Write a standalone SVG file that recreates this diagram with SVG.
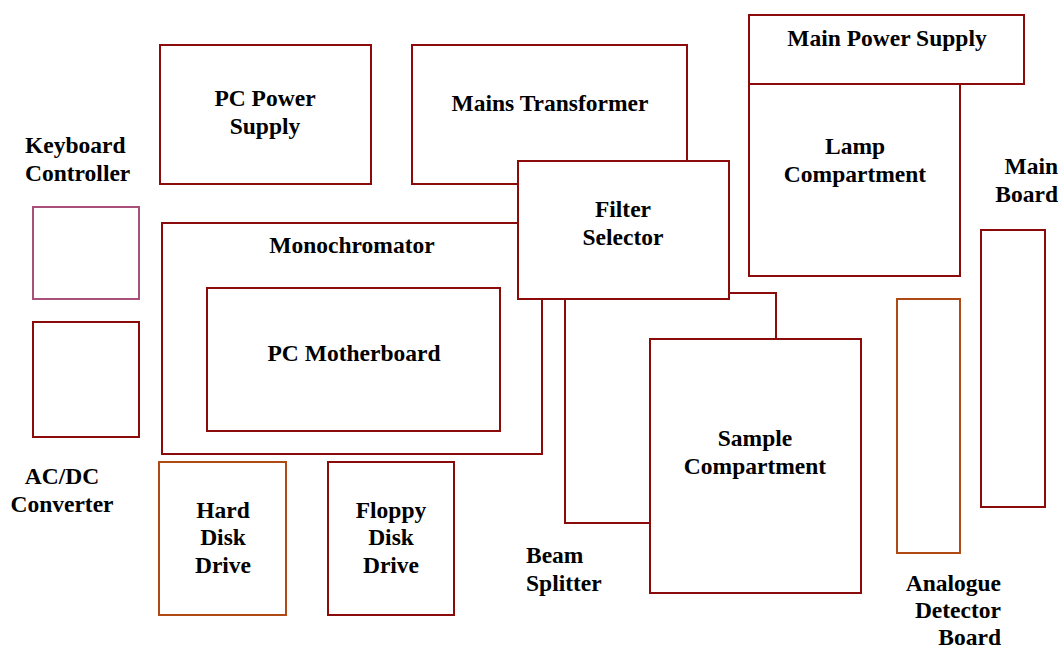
<svg xmlns="http://www.w3.org/2000/svg" width="1061" height="648" viewBox="0 0 1061 648">
<style>
rect{fill:#fff;stroke:#8B0A0A;stroke-width:2}
.pink{stroke:#A8507A}
.orange{stroke:#B04A14}
.conn{fill:none;stroke:#8B0A0A;stroke-width:2}
text{font-family:'Liberation Serif','Times New Roman',Times,serif;font-weight:700;font-size:23.5px;fill:#000}
.c{text-anchor:middle}
.e{text-anchor:end}
</style>
<rect width="1061" height="648" style="fill:#fff;stroke:none"/>
<g id="pc-power-supply"><rect x="160" y="45" width="211" height="139"/><text class="c" x="265" y="106">PC Power</text><text class="c" x="265" y="134">Supply</text></g>
<g id="mains-transformer"><rect x="412" y="45" width="275" height="139"/><text class="c" x="550" y="111">Mains Transformer</text></g>
<g id="monochromator"><rect x="162" y="223" width="380" height="231"/><text class="c" x="352" y="253">Monochromator</text></g>
<g id="pc-motherboard"><rect x="207" y="288" width="293" height="143"/><text class="c" x="354" y="361">PC Motherboard</text></g>
<g id="connectors">
<polyline class="conn" points="565,299 565,523 650,523"/>
<polyline class="conn" points="729,293 776,293 776,339"/>
</g>
<g id="filter-selector"><rect x="518" y="161" width="211" height="138"/><text class="c" x="623" y="217">Filter</text><text class="c" x="623" y="245">Selector</text></g>
<g id="main-power-supply"><rect x="749" y="15" width="275" height="69"/><text class="c" x="887" y="46">Main Power Supply</text></g>
<g id="lamp-compartment"><rect x="749" y="84" width="211" height="192"/><text class="c" x="855" y="154">Lamp</text><text class="c" x="855" y="182">Compartment</text></g>
<g id="keyboard-controller"><rect class="pink" x="33" y="207" width="106" height="92"/><text x="25" y="153">Keyboard</text><text x="25" y="181">Controller</text></g>
<g id="acdc-converter"><rect x="33" y="322" width="106" height="115"/><text class="c" x="62" y="484">AC/DC</text><text class="c" x="62" y="512">Converter</text></g>
<g id="hard-disk-drive"><rect class="orange" x="159" y="462" width="127" height="153"/><text class="c" x="223" y="518">Hard</text><text class="c" x="223" y="545">Disk</text><text class="c" x="223" y="573">Drive</text></g>
<g id="floppy-disk-drive"><rect x="328" y="462" width="126" height="153"/><text class="c" x="391" y="518">Floppy</text><text class="c" x="391" y="545">Disk</text><text class="c" x="391" y="573">Drive</text></g>
<g id="sample-compartment"><rect x="650" y="339" width="211" height="254"/><text class="c" x="755" y="446">Sample</text><text class="c" x="755" y="474">Compartment</text></g>
<g id="beam-splitter"><text x="526" y="563">Beam</text><text x="526" y="591">Splitter</text></g>
<g id="analogue-detector-board"><rect class="orange" x="897" y="299" width="63" height="254"/><text class="e" x="1001" y="591">Analogue</text><text class="e" x="1001" y="618">Detector</text><text class="e" x="1001" y="645">Board</text></g>
<g id="main-board"><rect x="981" y="230" width="64" height="277"/><text class="e" x="1058" y="174">Main</text><text class="e" x="1058" y="202">Board</text></g>
</svg>
